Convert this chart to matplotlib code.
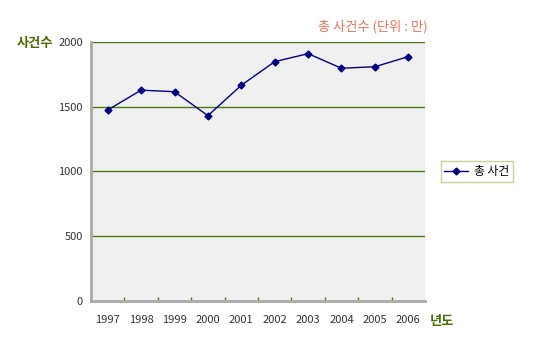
import matplotlib.pyplot as plt
import numpy as np

plt.rcParams['font.family'] = ['Noto Sans CJK KR', 'DejaVu Sans']

years = ['1997', '1998', '1999', '2000', '2001', '2002', '2003', '2004', '2005', '2006']
cases = [1475, 1628, 1616, 1431, 1666, 1848, 1910, 1797, 1809, 1887]
yticks = [0, 500, 1000, 1500, 2000]

fig = plt.figure(figsize=(5.37, 3.61), dpi=100)
ax = fig.add_axes([0.1695, 0.1662, 0.6219, 0.7175])
ax.set_facecolor('#f0f0f0')

x = np.arange(len(years))
ax.plot(x, cases, color='#000080', lw=1, marker='D', ms=3.5, label='총 사건')

ax.set_xlim(-0.5, len(years) - 0.5)
ax.set_ylim(0, 2000)
for v in yticks[1:]:
    ax.axhline(v, color='#4a7a10', lw=1, zorder=1)

ax.set_yticks(yticks)
ax.set_yticklabels([str(v) for v in yticks], fontsize=8, color='#333333')
ax.tick_params(axis='y', length=0, pad=6)

# category boundary ticks
ax.set_xticks(x[:-1] + 0.5, minor=True)
ax.tick_params(axis='x', which='minor', direction='in', length=3, color='#4a7a10', width=1)
ax.set_xticks(x)
ax.set_xticklabels(years, fontsize=8, color='#333333')
ax.tick_params(axis='x', which='major', length=0, pad=10)

for s in ['top', 'right']:
    ax.spines[s].set_visible(False)
ax.spines['left'].set_color('#aaaaaa')
ax.spines['left'].set_linewidth(2)
ax.spines['bottom'].set_color('#aaaaaa')
ax.spines['bottom'].set_linewidth(2)

fig.text(0.797, 0.925, '총 사건수 (단위 : 만)', color='#e8735a', fontsize=9.5, ha='right', va='center')
fig.text(0.031, 0.882, '사건수', color='#4a6b00', fontsize=9.5, fontweight='bold', ha='left', va='center')
fig.text(0.800, 0.111, '년도', color='#4a6b00', fontsize=9.5, fontweight='bold', ha='left', va='center')

leg = ax.legend(loc='center left', bbox_to_anchor=(1.03, 0.5), fontsize=8.5, frameon=True,
                fancybox=False, edgecolor='#b8c878', handlelength=2.0, handletextpad=0.5,
                borderpad=0.3)
leg.get_frame().set_linewidth(1)

fig.savefig('out.png', dpi=100, facecolor='white')
